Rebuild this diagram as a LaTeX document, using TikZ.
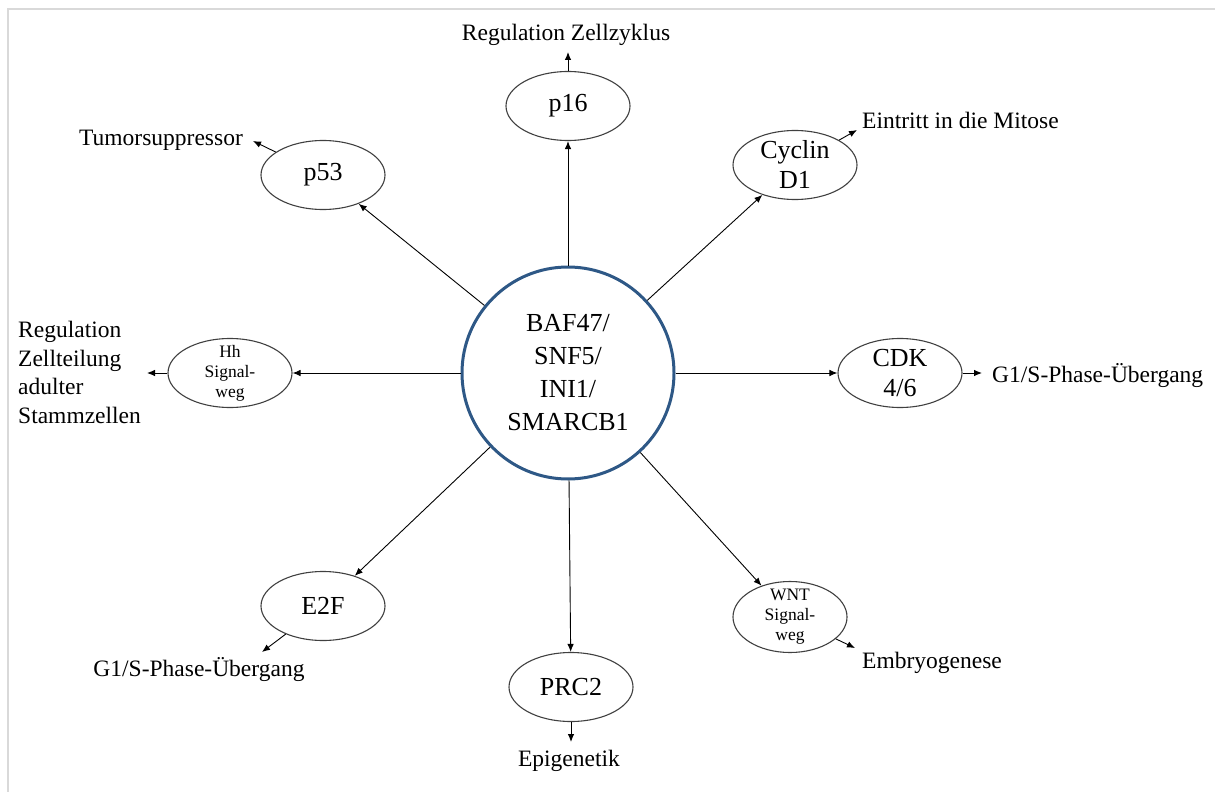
\documentclass[tikz,border=0pt]{standalone}
\usepackage{fontspec}
\setmainfont{Liberation Serif}
\usetikzlibrary{arrows.meta,shapes.geometric}
\definecolor{hub}{RGB}{46,88,134}
\definecolor{framegray}{RGB}{217,217,217}
\definecolor{ell}{RGB}{64,64,64}
\begin{document}
\begin{tikzpicture}[x=1pt,y=-1pt,
  sat/.style={ellipse,draw=ell,line width=1.1pt,minimum width=124pt,minimum height=69pt,
    inner xsep=0pt,inner ysep=-10pt,align=center,font=\fontsize{26}{30}\selectfont},
  satsmall/.style={sat,font=\fontsize{17.5}{20}\selectfont},
  lbl/.style={inner sep=0pt,font=\fontsize{23.5}{28.5}\selectfont},
  arr/.style={draw=black,line width=0.9pt,-{Latex[length=8pt,width=6.5pt]}}]
\useasboundingbox (0,0) rectangle (1215,792);
\draw[framegray,line width=2pt] (1215,9) -- (8,9) -- (8,792);

\node[circle,draw=hub,line width=3pt,minimum size=212pt,inner sep=0pt,align=center,
  font=\fontsize{26}{33}\selectfont] (c) at (568,373) {BAF47/\\SNF5/\\INI1/\\SMARCB1};

\node[sat] (p16) at (568,106) {p16};
\node[sat] (p53) at (323,175) {p53};
\node[sat] (cyc) at (795,165) {Cyclin\\D1};
\node[sat] (cdk) at (900,373) {CDK\\4/6};
\node[satsmall] (hh) at (230,373) {Hh\\Signal-\\weg};
\node[sat] (e2f) at (323,606) {E2F};
\node[sat] (prc) at (571,687) {PRC2};
\node[satsmall,minimum width=114pt,minimum height=71pt] (wnt) at (790,617) {WNT\\Signal-\\weg};

\draw[arr] (c) -- (p16);
\draw[arr] (c) -- (p53);
\draw[arr] (c) -- (cyc);
\draw[arr] (c) -- (cdk);
\draw[arr] (c) -- (hh);
\draw[arr] (c) -- (e2f);
\draw[arr] (c) -- (prc);
\draw[arr] (c) -- (wnt);

\coordinate (t16) at (568,52);
\coordinate (t53) at (253,141);
\coordinate (tcy) at (857,130);
\coordinate (tcdk) at (982,373);
\coordinate (thh) at (147,373);
\coordinate (te2f) at (262,652);
\coordinate (tprc) at (571,742);
\coordinate (twnt) at (855,648);

\draw[arr] (p16) -- (t16);
\draw[arr] (p53) -- (t53);
\draw[arr] (cyc) -- (tcy);
\draw[arr] (cdk) -- (tcdk);
\draw[arr] (hh) -- (thh);
\draw[arr] (e2f) -- (te2f);
\draw[arr] (prc) -- (tprc);
\draw[arr] (wnt) -- (twnt);

\node[lbl,anchor=base] (l16) at (566,41) {Regulation Zellzyklus};
\node[lbl,anchor=base] (l53) at (161,145) {Tumorsuppressor};
\node[lbl,anchor=base west] (lcy) at (862,128) {Eintritt in die Mitose};
\node[lbl,anchor=base west] (lcdk) at (992,382) {G1/S-Phase-Übergang};
\node[lbl,anchor=north west,align=left] (lhh) at (18,321) {Regulation\\Zellteilung\\adulter\\Stammzellen};
\node[lbl,anchor=base] (le2f) at (199,676) {G1/S-Phase-Übergang};
\node[lbl,anchor=base] (lprc) at (569,766) {Epigenetik};
\node[lbl,anchor=base west] (lwnt) at (862,668) {Embryogenese};
\end{tikzpicture}
\end{document}
